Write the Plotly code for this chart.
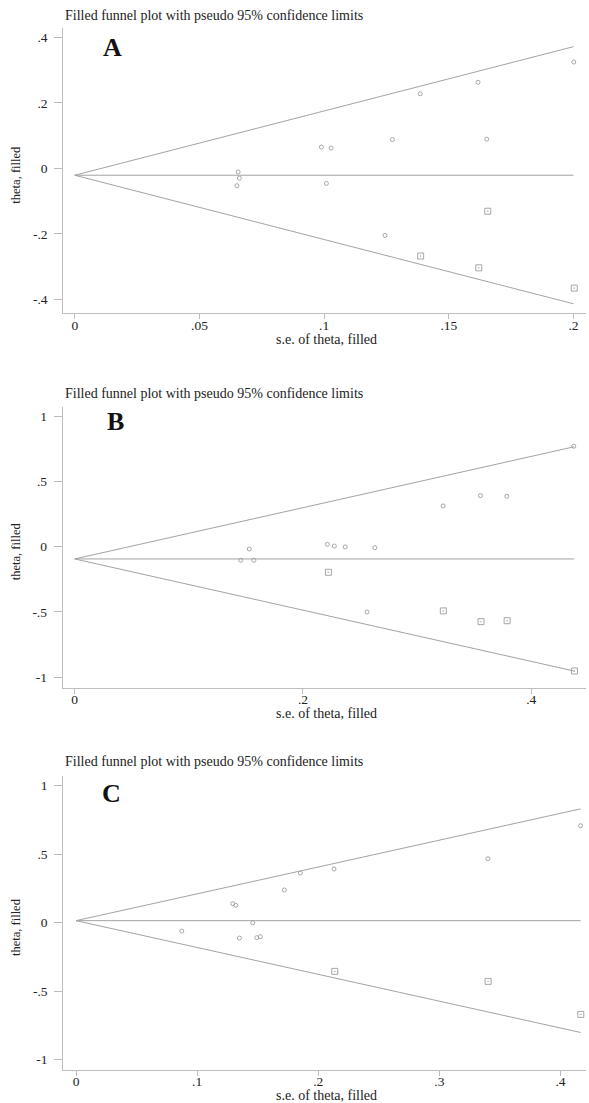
import plotly.graph_objects as go

W, H = 589, 1103

# ---------------- data ----------------
# Panel A
a_obs_se = [0.0655, 0.0660, 0.0650, 0.0989, 0.1028, 0.1009, 0.1274, 0.1244, 0.1385, 0.1617, 0.1652, 0.2001]
a_obs_theta = [-0.011, -0.030, -0.053, 0.065, 0.062, -0.046, 0.088, -0.205, 0.228, 0.263, 0.089, 0.325]
a_fill_se = [0.1656, 0.1387, 0.1620, 0.2003]
a_fill_theta = [-0.131, -0.268, -0.304, -0.366]
a_center = -0.021
a_se_max = 0.2
a_upper_end = 0.372
a_lower_end = -0.414
a_xticks = [0, 0.05, 0.1, 0.15, 0.2]
a_xticklabels = ["0", ".05", ".1", ".15", ".2"]
a_yticks = [-0.4, -0.2, 0, 0.2, 0.4]
a_yticklabels = ["-.4", "-.2", "0", ".2", ".4"]

# Panel B
b_obs_se = [0.1455, 0.1530, 0.1570, 0.2214, 0.2275, 0.2370, 0.2630, 0.3228, 0.3555, 0.3786, 0.4373, 0.2562]
b_obs_theta = [-0.104, -0.018, -0.104, 0.018, 0.005, -0.002, -0.008, 0.312, 0.391, 0.386, 0.769, -0.500]
b_fill_se = [0.2223, 0.3230, 0.3560, 0.3789, 0.4379]
b_fill_theta = [-0.196, -0.492, -0.574, -0.567, -0.952]
b_center = -0.094
b_se_max = 0.4375
b_upper_end = 0.765
b_lower_end = -0.952
b_xticks = [0, 0.2, 0.4]
b_xticklabels = ["0", ".2", ".4"]
b_yticks = [-1, -0.5, 0, 0.5, 1]
b_yticklabels = ["-1", "-.5", "0", ".5", "1"]

# Panel C
c_obs_se = [0.0873, 0.1294, 0.1319, 0.1459, 0.1349, 0.1492, 0.1522, 0.1720, 0.1852, 0.2130, 0.3400, 0.4165]
c_obs_theta = [-0.061, 0.139, 0.127, 0.000, -0.112, -0.109, -0.102, 0.239, 0.363, 0.392, 0.467, 0.708]
c_fill_se = [0.2136, 0.3402, 0.4167]
c_fill_theta = [-0.355, -0.428, -0.669]
c_center = 0.015
c_se_max = 0.4165
c_upper_end = 0.831
c_lower_end = -0.801
c_xticks = [0, 0.1, 0.2, 0.3, 0.4]
c_xticklabels = ["0", ".1", ".2", ".3", ".4"]
c_yticks = [-1, -0.5, 0, 0.5, 1]
c_yticklabels = ["-1", "-.5", "0", ".5", "1"]

panel_letters = ["A", "B", "C"]
title_text = "Filled funnel plot with pseudo 95% confidence limits"
x_title = "s.e. of theta, filled"
y_title = "theta, filled"

# ---------------- layout geometry (pixels) ----------------
FONT = "Liberation Serif, Times New Roman, serif"
LINE_COL = "#a3a3a3"
AXIS_COL = "#bdbdbd"
TEXT_COL = "#222222"
MARK_COL = "#a6a6a6"

panels = [
    dict(obs_se=a_obs_se, obs_th=a_obs_theta, fill_se=a_fill_se, fill_th=a_fill_theta,
         center=a_center, se_max=a_se_max, up=a_upper_end, lo=a_lower_end,
         xt=a_xticks, xl=a_xticklabels, yt=a_yticks, yl=a_yticklabels,
         xr=[-0.0046, 0.205], yr=[-0.443, 0.429],
         px_x=(63.3, 586), px_y=(28, 313.3), title_y=15, letter=(112, 47), xtitle_y=339),
    dict(obs_se=b_obs_se, obs_th=b_obs_theta, fill_se=b_fill_se, fill_th=b_fill_theta,
         center=b_center, se_max=b_se_max, up=b_upper_end, lo=b_lower_end,
         xt=b_xticks, xl=b_xticklabels, yt=b_yticks, yl=b_yticklabels,
         xr=[-0.0105, 0.448], yr=[-1.080, 1.072],
         px_x=(62.7, 586), px_y=(406.7, 687.7), title_y=393, letter=(115, 421), xtitle_y=713),
    dict(obs_se=c_obs_se, obs_th=c_obs_theta, fill_se=c_fill_se, fill_th=c_fill_theta,
         center=c_center, se_max=c_se_max, up=c_upper_end, lo=c_lower_end,
         xt=c_xticks, xl=c_xticklabels, yt=c_yticks, yl=c_yticklabels,
         xr=[-0.0105, 0.421], yr=[-1.075, 1.071],
         px_x=(63.3, 586), px_y=(776, 1070), title_y=761, letter=(111, 793), xtitle_y=1095),
]


def fx(px):
    return px / W


def fy(py):
    return 1 - py / H


fig = go.Figure()
annotations = []
layout_axes = {}

for i, p in enumerate(panels, start=1):
    xa = "x" if i == 1 else f"x{i}"
    ya = "y" if i == 1 else f"y{i}"
    # funnel limits
    for yend in (p["up"], p["lo"], p["center"]):
        fig.add_trace(go.Scatter(x=[0, p["se_max"]], y=[p["center"], yend], mode="lines",
                                 line=dict(color=LINE_COL, width=1), xaxis=xa, yaxis=ya,
                                 showlegend=False, hoverinfo="skip"))
    # observed studies
    fig.add_trace(go.Scatter(x=p["obs_se"], y=p["obs_th"], mode="markers",
                             marker=dict(symbol="circle-open", size=4, color=MARK_COL,
                                         line=dict(width=1, color=MARK_COL)),
                             xaxis=xa, yaxis=ya, showlegend=False))
    # filled (imputed) studies
    fig.add_trace(go.Scatter(x=p["fill_se"], y=p["fill_th"], mode="markers",
                             marker=dict(symbol="square-open-dot", size=6, color=MARK_COL,
                                         line=dict(width=1, color=MARK_COL)),
                             xaxis=xa, yaxis=ya, showlegend=False))

    x0, x1 = p["px_x"]
    y0, y1 = p["px_y"]
    xkey = "xaxis" if i == 1 else f"xaxis{i}"
    ykey = "yaxis" if i == 1 else f"yaxis{i}"
    layout_axes[xkey] = dict(
        domain=[fx(x0), fx(x1)], range=p["xr"], anchor=ya,
        tickvals=p["xt"], ticktext=p["xl"], ticks="outside", ticklen=5, tickcolor=AXIS_COL,
        ticklabelstandoff=-6,
        showline=True, linecolor=AXIS_COL, linewidth=1, showgrid=False, zeroline=False,
        tickfont=dict(family=FONT, size=13.5, color=TEXT_COL),
    )
    layout_axes[ykey] = dict(
        domain=[fy(y1), fy(y0)], range=p["yr"], anchor=xa,
        tickvals=p["yt"], ticktext=p["yl"], ticks="outside", ticklen=8, tickcolor=AXIS_COL,
        ticklabelstandoff=4,
        showline=True, linecolor=AXIS_COL, linewidth=1, showgrid=False, zeroline=False,
        tickfont=dict(family=FONT, size=13.5, color=TEXT_COL),
    )
    # panel title
    annotations.append(dict(text=title_text, x=fx(62.7), y=fy(p["title_y"]), xref="paper", yref="paper",
                            xanchor="left", yanchor="middle", showarrow=False,
                            font=dict(family=FONT, size=14, color=TEXT_COL)))
    # letter
    lx, ly = p["letter"]
    annotations.append(dict(text=f"<b>{panel_letters[i-1]}</b>", x=fx(lx), y=fy(ly), xref="paper", yref="paper",
                            xanchor="center", yanchor="middle", showarrow=False,
                            font=dict(family=FONT, size=26, color="#111111")))
    # x title
    annotations.append(dict(text=x_title, x=fx((x0 + x1) / 2 + 2), y=fy(p["xtitle_y"]), xref="paper", yref="paper",
                            xanchor="center", yanchor="middle", showarrow=False,
                            font=dict(family=FONT, size=14, color=TEXT_COL)))
    # y title
    annotations.append(dict(text=y_title, x=fx(16), y=fy((y0 + y1) / 2 + 4), xref="paper", yref="paper",
                            xanchor="center", yanchor="middle", showarrow=False, textangle=-90,
                            font=dict(family=FONT, size=12.5, color=TEXT_COL)))

fig.update_layout(
    width=W, height=H, margin=dict(l=0, r=0, t=0, b=0),
    paper_bgcolor="white", plot_bgcolor="white",
    annotations=annotations, **layout_axes,
)

fig.write_html("out.html", config={"displayModeBar": False},
               post_script="document.body.style.margin='0px';")
